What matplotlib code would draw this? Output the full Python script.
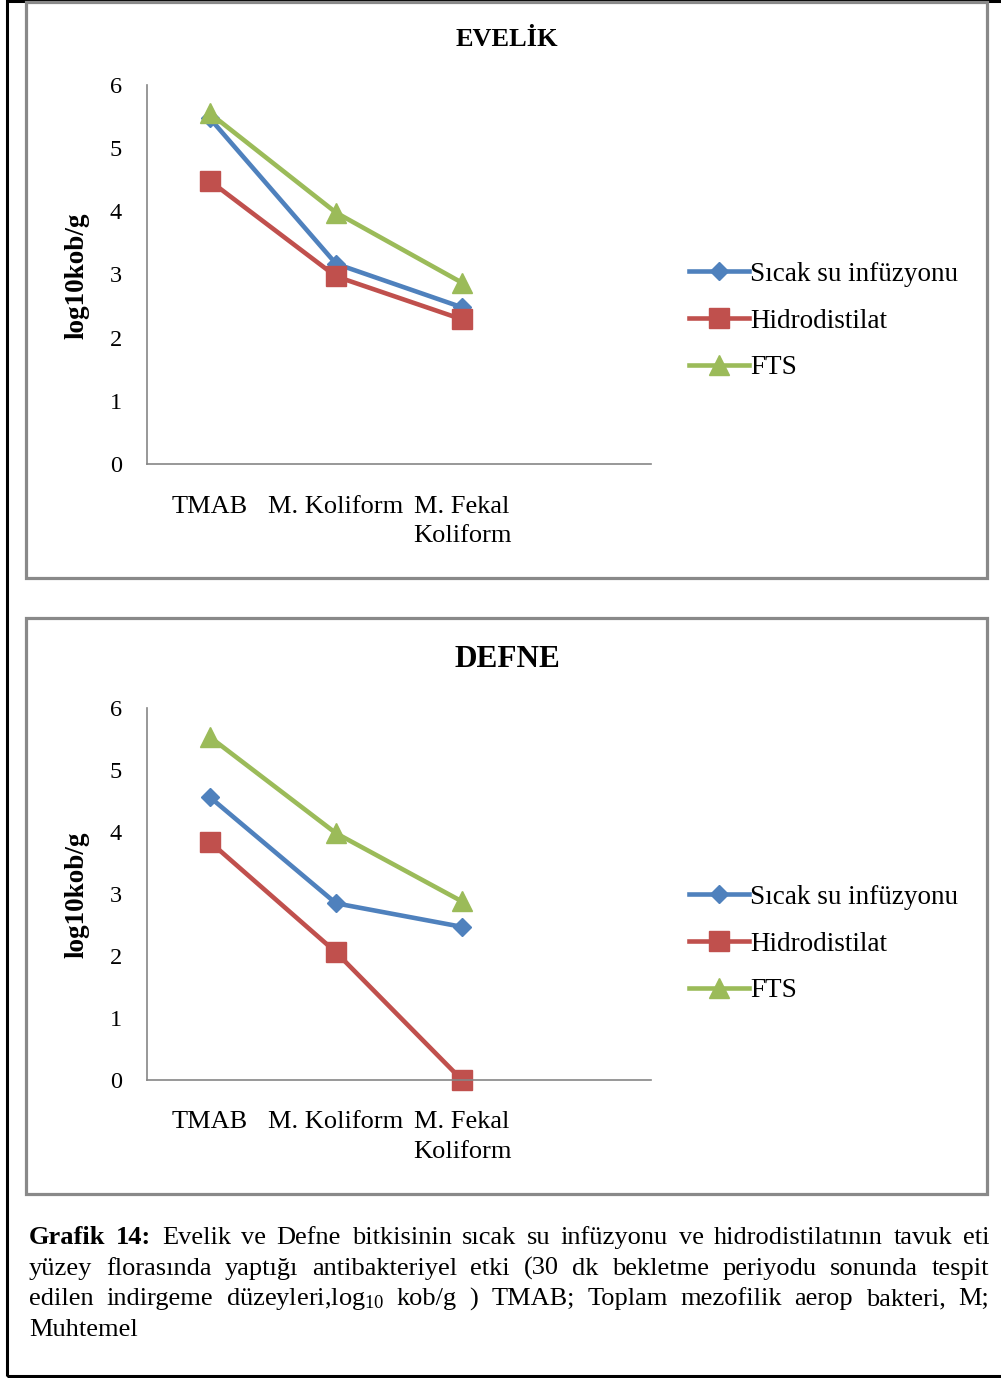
import matplotlib
matplotlib.use('Agg')
import matplotlib.pyplot as plt
from matplotlib.patches import Rectangle

plt.rcParams['font.family'] = ['Liberation Serif', 'DejaVu Serif']
plt.rcParams['mathtext.fontset'] = 'custom'
plt.rcParams['mathtext.rm'] = 'Liberation Serif'
plt.rcParams['mathtext.it'] = 'Liberation Serif'

W, H = 1001, 1378

categories = ['TMAB', 'M. Koliform', 'M. Fekal\nKoliform']
series_names = ['Sıcak su infüzyonu', 'Hidrodistilat', 'FTS']

evelik_sicak = [5.47, 3.17, 2.48]
evelik_hidro = [4.48, 2.97, 2.29]
evelik_fts = [5.55, 3.98, 2.87]

defne_sicak = [4.56, 2.85, 2.47]
defne_hidro = [3.84, 2.06, 0.0]
defne_fts = [5.53, 3.98, 2.88]

yticks = [0, 1, 2, 3, 4, 5, 6]

colors = ['#4F81BD', '#C0504D', '#9BBB59']
markers = ['D', 's', '^']
msizes = [9, 14, 15]

caption_lines = [
    ['$B$Grafik', '$B$14:', 'Evelik', 've', 'Defne', 'bitkisinin', 'sıcak', 'su', 'infüzyonu',
     've', 'hidrodistilatının', 'tavuk', 'eti'],
    ['yüzey', 'florasında', 'yaptığı', 'antibakteriyel', 'etki', '(30', 'dk', 'bekletme',
     'periyodu', 'sonunda', 'tespit'],
    ['edilen', 'indirgeme', r'düzeyleri,log$_{10}$', 'kob/g', ')', 'TMAB;', 'Toplam',
     'mezofilik', 'aerop', 'bakteri,', 'M;'],
    ['Muhtemel'],
]


def fx(px):
    return px / W


def fy(py):
    return 1 - py / H


fig = plt.figure(figsize=(W / 100, H / 100), dpi=100)

# outer frame and the two chart boxes
fig.patches.append(Rectangle((fx(7), fy(1376)), fx(1010) - fx(7), fy(1) - fy(1376),
                             transform=fig.transFigure, fill=False, lw=2.2,
                             edgecolor='black', clip_on=False))
for top, bottom in [(2, 578), (618, 1194)]:
    fig.patches.append(Rectangle((fx(26), fy(bottom)), fx(987) - fx(26), fy(top) - fy(bottom),
                                 transform=fig.transFigure, fill=False, lw=2.3,
                                 edgecolor='#898989'))


def draw_panel(top_px, bottom_px, title, title_size, title_y, data):
    ax = fig.add_axes([fx(147), fy(bottom_px), fx(651) - fx(147), fy(top_px) - fy(bottom_px)])
    xs = [0.5, 1.5, 2.5]
    for vals, name, c, m, ms in zip(data, series_names, colors, markers, msizes):
        ax.plot(xs, vals, color=c, lw=3.3, marker=m, markersize=ms,
                markeredgecolor=c, label=name, clip_on=False)
    ax.set_xlim(0, 4)
    ax.set_ylim(0, 6)
    ax.set_yticks(yticks)
    ax.set_xticks([])
    for s in ['top', 'right']:
        ax.spines[s].set_visible(False)
    for s in ['left', 'bottom']:
        ax.spines[s].set_color('#868686')
        ax.spines[s].set_linewidth(1.2)
    ax.tick_params(axis='y', length=0, pad=18, labelsize=17.5)
    for x, lab in zip(xs, categories):
        ax.text(x, -0.5, lab, ha='center', va='top', fontsize=19,
                linespacing=1.45, transform=ax.transData)
    fig.text(fx(77), fy((top_px + bottom_px) / 2 + 1), 'log10kob/g', rotation=90,
             ha='center', va='center', fontsize=19.5, fontweight='bold')
    fig.text(fx(507), fy(title_y), title, ha='center', va='center',
             fontsize=title_size, fontweight='bold')
    ax.legend(loc='center left', bbox_to_anchor=(fx(689), fy(top_px + 236)),
              bbox_transform=fig.transFigure, frameon=False, fontsize=19.5,
              handlelength=2.2, handletextpad=0.05, labelspacing=0.8,
              borderpad=0, borderaxespad=0)
    return ax


draw_panel(85, 464, 'EVELİK', 19, 40, [evelik_sicak, evelik_hidro, evelik_fts])
draw_panel(708, 1080, 'DEFNE', 22.5, 659, [defne_sicak, defne_hidro, defne_fts])

# justified caption under the charts
renderer = fig.canvas.get_renderer()
left, right = 29, 989
base0, pitch = 1244, 30.7
for i, words in enumerate(caption_lines):
    y = fy(base0 + i * pitch)
    items = []
    for w in words:
        bold = w.startswith('$B$')
        s = w[3:] if bold else w
        t = fig.text(0, y, s, fontsize=19, va='baseline', ha='left',
                     fontweight='bold' if bold else 'normal')
        items.append(t)
    widths = [t.get_window_extent(renderer).width for t in items]
    if i < len(caption_lines) - 1 and len(items) > 1:
        gap = (right - left - sum(widths)) / (len(items) - 1)
    else:
        gap = 5
    x = left
    for t, w in zip(items, widths):
        t.set_x(fx(x))
        x += w + gap

fig.savefig('out.png', dpi=100)
